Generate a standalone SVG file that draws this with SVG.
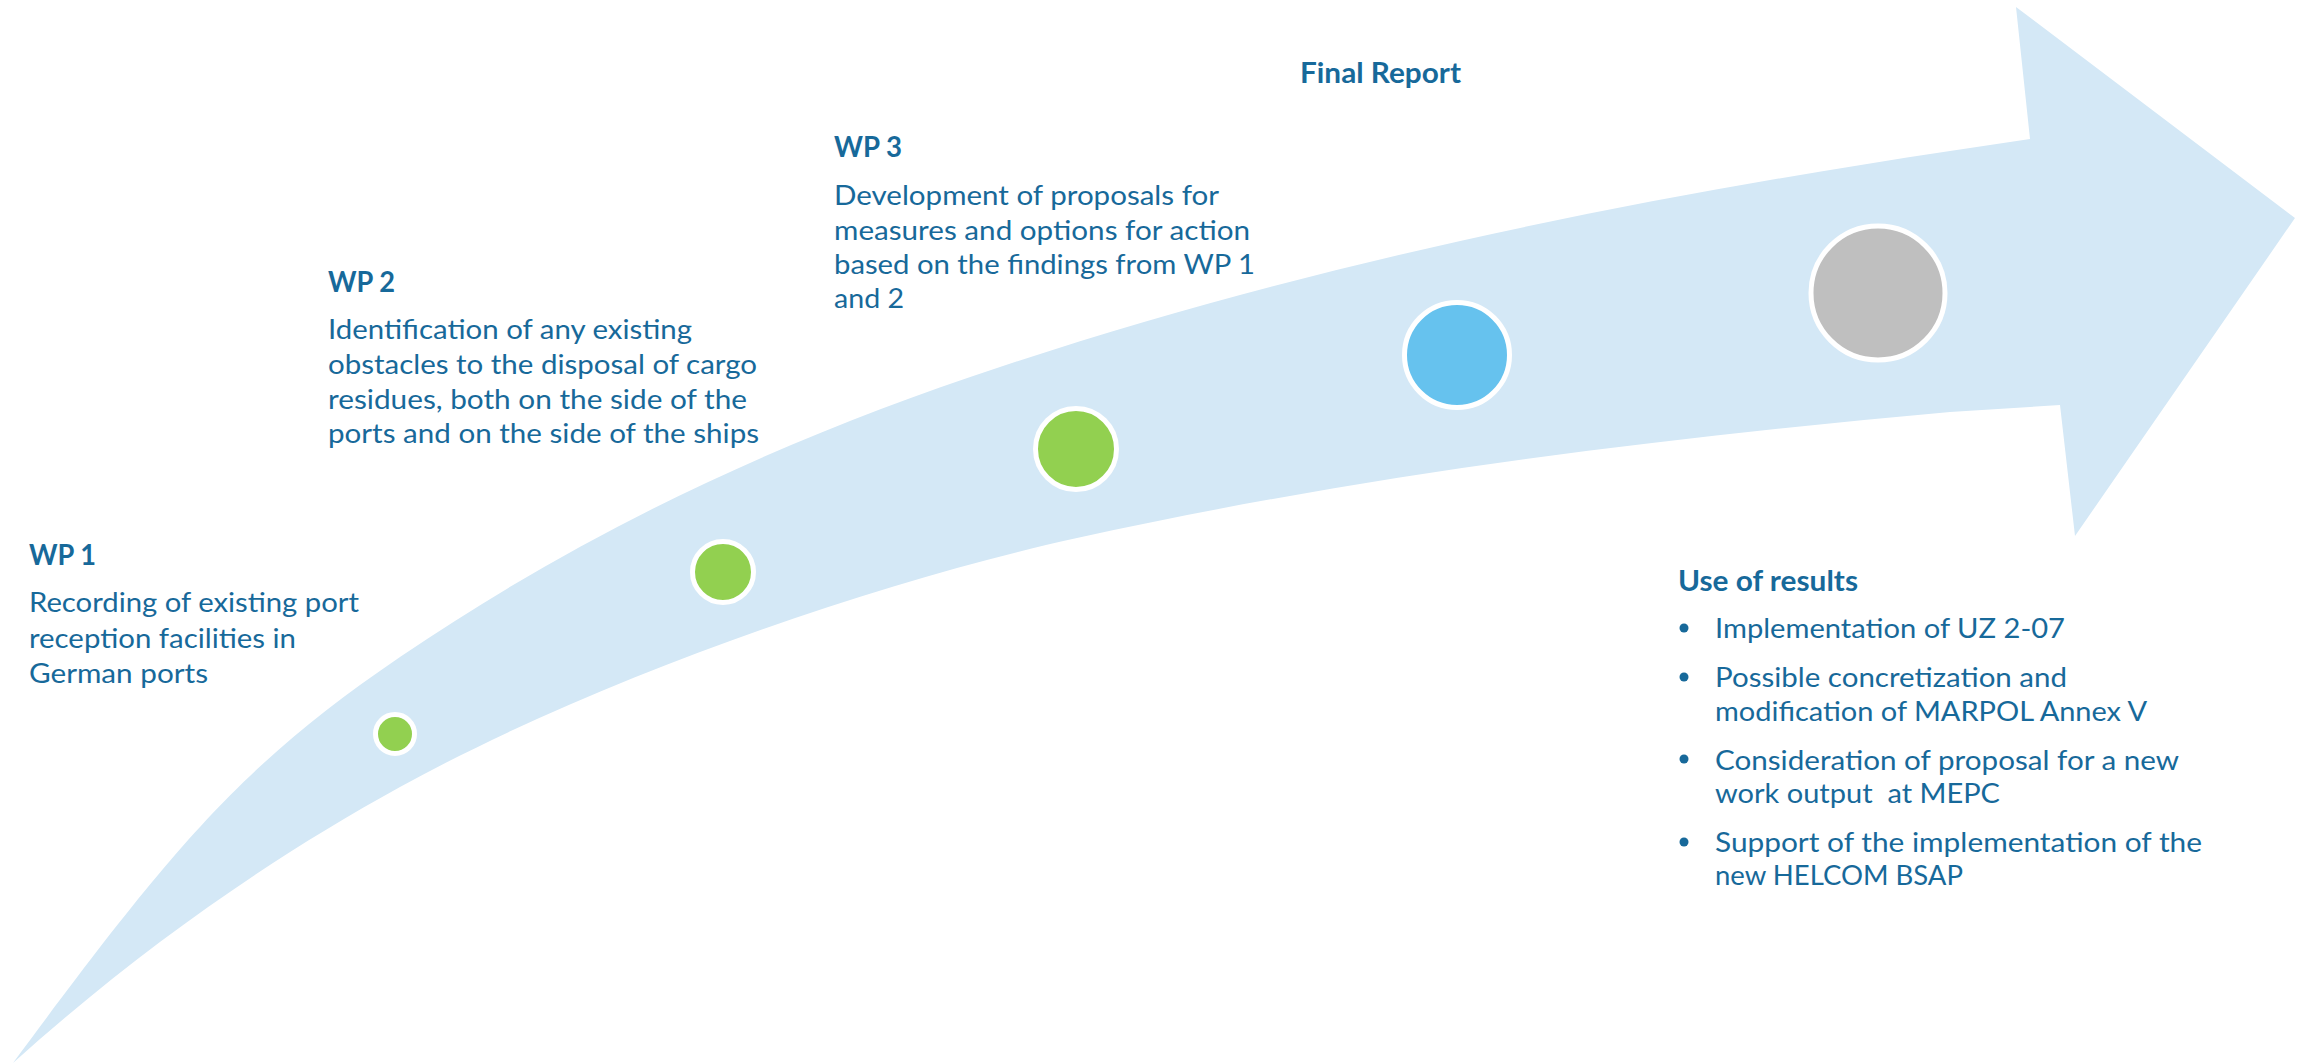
<svg xmlns="http://www.w3.org/2000/svg" width="2304" height="1064" viewBox="0 0 2304 1064">
  <style>
    .h { font-family: Lato, "Liberation Sans", sans-serif; font-weight: 700; font-size: 28px; fill: #17699A; }
    .t { font-family: Lato, "Liberation Sans", sans-serif; font-weight: 400; font-size: 26px; fill: #17699A; }
    .dot { stroke: #FFFFFF; stroke-width: 5; }
    .g { fill: #92D050; }
    .b { fill: #66C2EE; }
    .gr { fill: #BFBFBF; }
    .bul { fill: #17699A; }
  </style>
  <rect x="0" y="0" width="2304" height="1064" fill="#FFFFFF"/>

  <g id="connectors">
    <path id="timeline-arrow" fill="#D4E8F6" d="M 13,1063 C 173,847 240,766 400,657 C 600,521 800,433 1000,367 C 1317,262 1633,199 1950,151 L 2030,139 L 2016,7 L 2295,218 L 2075,536 L 2060,405 L 1950,412 C 1659,438 1368,474 1077,538 C 877,582 600,677 400,787 C 271,858 142,947 13,1063 Z"/>
  </g>

  <g id="milestone-1"><circle class="dot g" cx="395" cy="734" r="19.5"/></g>
  <g id="milestone-2"><circle class="dot g" cx="723" cy="572" r="30.5"/></g>
  <g id="milestone-3"><circle class="dot g" cx="1076" cy="449" r="40.5"/></g>
  <g id="milestone-4"><circle class="dot b" cx="1457" cy="355" r="52.5"/></g>
  <g id="milestone-5"><circle class="dot gr" cx="1878" cy="293" r="67"/></g>

  <g id="wp1">
    <text class="h" x="29" y="565" textLength="67" lengthAdjust="spacingAndGlyphs">WP 1</text>
    <text class="t" x="29" y="612" textLength="330" lengthAdjust="spacingAndGlyphs">Recording of existing port</text>
    <text class="t" x="29" y="648" textLength="267" lengthAdjust="spacingAndGlyphs">reception facilities in</text>
    <text class="t" x="29" y="683" textLength="179" lengthAdjust="spacingAndGlyphs">German ports</text>
  </g>

  <g id="wp2">
    <text class="h" x="328" y="292" textLength="67" lengthAdjust="spacingAndGlyphs">WP 2</text>
    <text class="t" x="328" y="339" textLength="364" lengthAdjust="spacingAndGlyphs">Identification of any existing</text>
    <text class="t" x="328" y="374" textLength="429" lengthAdjust="spacingAndGlyphs">obstacles to the disposal of cargo</text>
    <text class="t" x="328" y="409" textLength="419" lengthAdjust="spacingAndGlyphs">residues, both on the side of the</text>
    <text class="t" x="328" y="443" textLength="431" lengthAdjust="spacingAndGlyphs">ports and on the side of the ships</text>
  </g>

  <g id="wp3">
    <text class="h" x="834" y="157" textLength="68" lengthAdjust="spacingAndGlyphs">WP 3</text>
    <text class="t" x="834" y="205" textLength="385" lengthAdjust="spacingAndGlyphs">Development of proposals for</text>
    <text class="t" x="834" y="240" textLength="416" lengthAdjust="spacingAndGlyphs">measures and options for action</text>
    <text class="t" x="834" y="274" textLength="421" lengthAdjust="spacingAndGlyphs">based on the findings from WP 1</text>
    <text class="t" x="834" y="308" textLength="70" lengthAdjust="spacingAndGlyphs">and 2</text>
  </g>

  <g id="final-report">
    <text class="h" x="1300" y="83" textLength="161" lengthAdjust="spacingAndGlyphs">Final Report</text>
  </g>

  <g id="use-of-results">
    <text class="h" x="1678" y="591" textLength="180" lengthAdjust="spacingAndGlyphs">Use of results</text>
    <circle class="bul" cx="1684" cy="628" r="4.5"/>
    <text class="t" x="1715" y="638" textLength="350" lengthAdjust="spacingAndGlyphs">Implementation of UZ 2-07</text>
    <circle class="bul" cx="1684" cy="677" r="4.5"/>
    <text class="t" x="1715" y="687" textLength="352" lengthAdjust="spacingAndGlyphs">Possible concretization and</text>
    <text class="t" x="1715" y="721" textLength="432" lengthAdjust="spacingAndGlyphs">modification of MARPOL Annex V</text>
    <circle class="bul" cx="1684" cy="759" r="4.5"/>
    <text class="t" x="1715" y="770" textLength="464" lengthAdjust="spacingAndGlyphs">Consideration of proposal for a new</text>
    <text class="t" x="1715" y="803" textLength="285" lengthAdjust="spacingAndGlyphs" xml:space="preserve">work output  at MEPC</text>
    <circle class="bul" cx="1684" cy="842" r="4.5"/>
    <text class="t" x="1715" y="852" textLength="487" lengthAdjust="spacingAndGlyphs">Support of the implementation of the</text>
    <text class="t" x="1715" y="885" textLength="248" lengthAdjust="spacingAndGlyphs">new HELCOM BSAP</text>
  </g>
</svg>
